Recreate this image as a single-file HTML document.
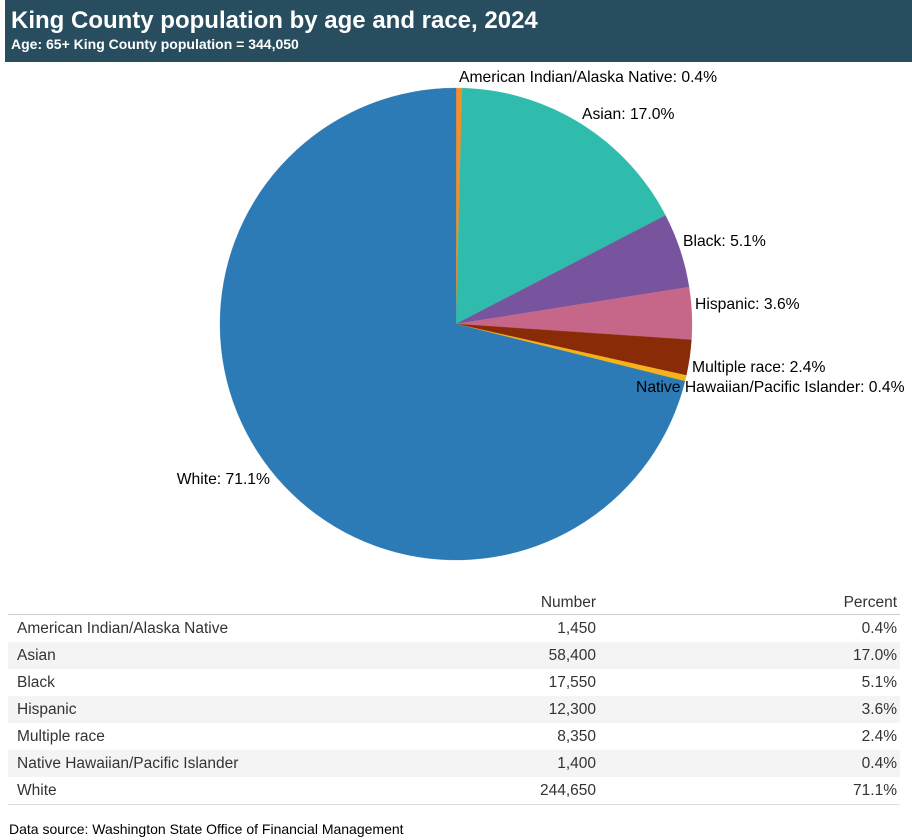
<!DOCTYPE html>
<html><head><meta charset="utf-8"><style>
body{margin:0;width:912px;height:840px;background:#fff;font-family:"Liberation Sans",Arial,sans-serif;position:relative;overflow:hidden}
#hdr{position:absolute;left:5px;top:0;width:907px;height:62px;background:#274d5f;color:#fff}
#t1{position:absolute;left:6px;top:7px;font-size:24px;font-weight:bold;white-space:nowrap}
#t2{position:absolute;left:6px;top:36px;font-size:14px;font-weight:bold;white-space:nowrap}
svg{position:absolute;left:0;top:0}
table{position:absolute;left:8px;top:590px;width:892px;border-collapse:collapse;font-size:15.5px;color:#333;table-layout:fixed}
td,th{height:27px;padding:0 3px 0 9px;font-weight:normal;white-space:nowrap}
th{height:22px;text-align:right;border-bottom:1px solid #ccc;vertical-align:bottom;padding-bottom:2px}
td.n{text-align:right}
tr:nth-child(even) td{background:#f4f4f4}
tr:last-child td{border-bottom:1px solid #ddd}
#src{position:absolute;left:9px;top:821px;font-size:14px;color:#000}
</style></head><body>
<div id="hdr">
<div id="t1">King County population by age and race, 2024</div>
<div id="t2">Age: 65+ King County population = 344,050</div>
</div>
<svg id="pie" width="912" height="590"></svg>
<table>
<colgroup><col style="width:492px"><col style="width:99px"><col style="width:301px"></colgroup>
<thead><tr><th style="text-align:left"></th><th>Number</th><th>Percent</th></tr></thead>
<tbody id="tb"></tbody></table>
<div id="src">Data source: Washington State Office of Financial Management</div>
<script>
const categories=["American Indian/Alaska Native","Asian","Black","Hispanic","Multiple race","Native Hawaiian/Pacific Islander","White"];
const numbers=[1450,58400,17550,12300,8350,1400,244650];
const percents=[0.4,17.0,5.1,3.6,2.4,0.4,71.1];
const colors=["#f28e2b","#2fbcad","#77549d","#c6678a","#8a2b08","#f5b21c","#2c7bb6"];
const labelPos=[[459,77,"start"],[582,114,"start"],[683,241,"start"],[695,304,"start"],[692,367,"start"],[636,387,"start"],[270,479,"end"]];
const NS="http://www.w3.org/2000/svg";
const svg=document.getElementById('pie');
const cx=456,cy=324,R=236;
const total=numbers.reduce((a,b)=>a+b,0);
let acc=0;
function pt(f,r){const a=f*2*Math.PI;return [cx+r*Math.sin(a),cy-r*Math.cos(a)];}
numbers.forEach((v,i)=>{
  const f0=acc/total;acc+=v;const f1=acc/total;
  const p0=pt(f0,R),p1=pt(f1,R);
  const large=(f1-f0)>0.5?1:0;
  const p=document.createElementNS(NS,'path');
  p.setAttribute('d',`M${cx},${cy}L${p0[0]},${p0[1]}A${R},${R} 0 ${large} 1 ${p1[0]},${p1[1]}Z`);
  p.setAttribute('fill',colors[i]);p.setAttribute('stroke',colors[i]);p.setAttribute('stroke-width','0.3');
  
  
  svg.appendChild(p);
});
categories.forEach((c,i)=>{
  const t=document.createElementNS(NS,'text');
  t.setAttribute('x',labelPos[i][0]);t.setAttribute('y',labelPos[i][1]+5);
  t.setAttribute('text-anchor',labelPos[i][2]);
  t.setAttribute('font-size','15.7');t.setAttribute('fill','#000');
  t.textContent=c+': '+percents[i].toFixed(1)+'%';
  
  
  svg.appendChild(t);
});
const tb=document.getElementById('tb');
categories.forEach((c,i)=>{
  const tr=document.createElement('tr');
  
  
  tr.innerHTML=`<td>${c}</td><td class="n">${numbers[i].toLocaleString('en-US')}</td><td class="n">${percents[i].toFixed(1)}%</td>`;
  tb.appendChild(tr);
});
</script>
</body></html>
